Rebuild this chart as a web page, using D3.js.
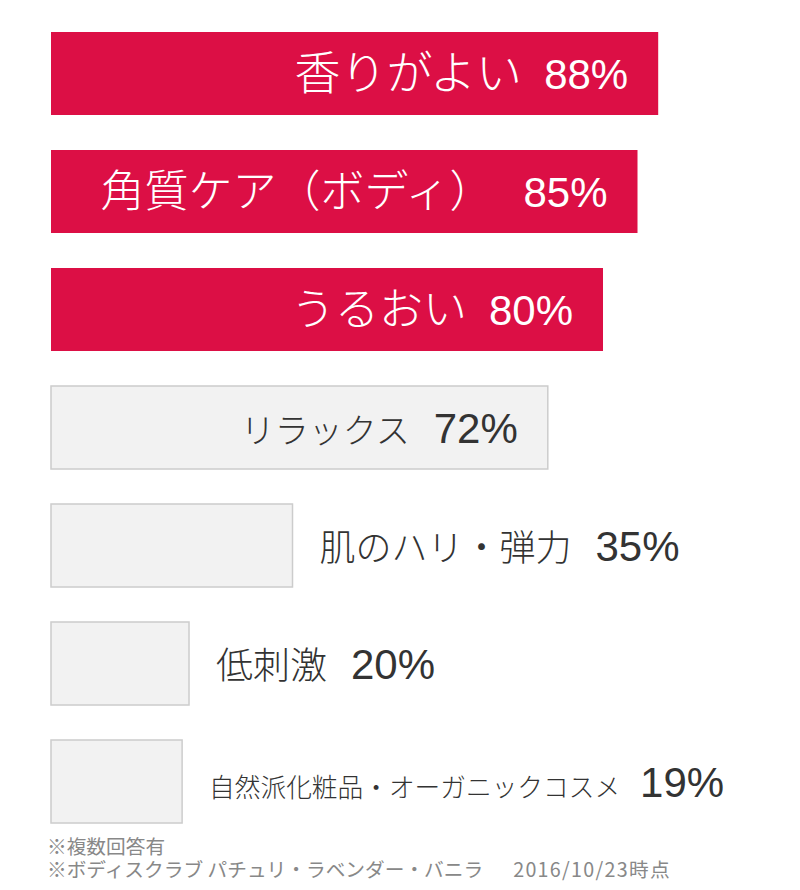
<!DOCTYPE html>
<html lang="ja">
  <head>
    <meta charset="UTF-8" />
    <title>ボディスクラブ 評価</title>
    <style>
      body { margin: 0; background: #fff; }
      text { font-family: "Noto Sans CJK JP", "Noto Sans", sans-serif; }
      .pct { font-family: "Liberation Sans", "Open Sans", sans-serif; }
    </style>
  </head>
  <body>
    <svg id="chart" width="800" height="890"></svg>
    <script src="https://cdn.jsdelivr.net/npm/d3@7"></script>
    <script>
      // data
      const labels = [
        "香りがよい",
        "角質ケア（ボディ）",
        "うるおい",
        "リラックス",
        "肌のハリ・弾力",
        "低刺激",
        "自然派化粧品・オーガニックコスメ"
      ];
      const values = [88, 85, 80, 72, 35, 20, 19];
      const highlight = [true, true, true, false, false, false, false];
      const labelInside = [true, true, true, true, false, false, false];
      const notes = [
        "※複数回答有",
        "※ボディスクラブ パチュリ・ラベンダー・バニラ"
      ];
      const noteDate = "2016/10/23時点";

      // font sizes / gaps per row
      const labelSize = [46, 44, 44, 34, 36, 37, 25.7];
      const gap = [22, 30, 22, 24, 24, 24, 20];
      const pctSize = 42;

      const svg = d3.select("#chart");

      const x = d3.scaleLinear().domain([0, 100]).range([51, 741]);
      const y = d3.scaleBand()
        .domain(d3.range(values.length))
        .range([32, 823])
        .paddingInner(35 / 118)
        .paddingOuter(0);

      const rows = svg.selectAll("g.row")
        .data(values.map((v, i) => ({ v, i })))
        .join("g")
        .attr("class", "row");

      rows.append("rect")
        .attr("x", x(0))
        .attr("y", d => y(d.i))
        .attr("width", d => x(d.v) - x(0))
        .attr("height", y.bandwidth())
        .attr("fill", d => highlight[d.i] ? "#dc0f45" : "#f2f2f2")
        .attr("stroke", d => highlight[d.i] ? "none" : "#cccccc")
        .attr("stroke-width", 1.5);

      const txt = rows.append("text")
        .attr("x", d => labelInside[d.i] ? x(d.v) - 30 : x(d.v) + 27)
        .attr("y", d => y(d.i) + y.bandwidth() / 2 + pctSize * 0.37)
        .attr("text-anchor", d => labelInside[d.i] ? "end" : "start")
        .attr("fill", d => highlight[d.i] ? "#ffffff" : "#333333")
        .attr("font-weight", 300);

      txt.append("tspan")
        .attr("font-size", d => labelSize[d.i])
        .text(d => labels[d.i]);

      txt.append("tspan")
        .attr("class", "pct")
        .attr("dx", d => gap[d.i])
        .attr("font-size", pctSize)
        .attr("font-weight", 400)
        .text(d => d.v + "%");

      // footnotes: one text block, one line per note
      const note = svg.append("text")
        .attr("class", "note")
        .attr("font-size", 19.7)
        .attr("fill", "#888888");

      note.selectAll("tspan.line")
        .data(notes)
        .join("tspan")
        .attr("class", "line")
        .attr("x", 47)
        .attr("y", (d, i) => 854 + i * 23)
        .text(d => d);

      note.append("tspan")
        .attr("dx", 30)
        .attr("letter-spacing", 1.3)
        .text(noteDate);
    </script>
  </body>
</html>
